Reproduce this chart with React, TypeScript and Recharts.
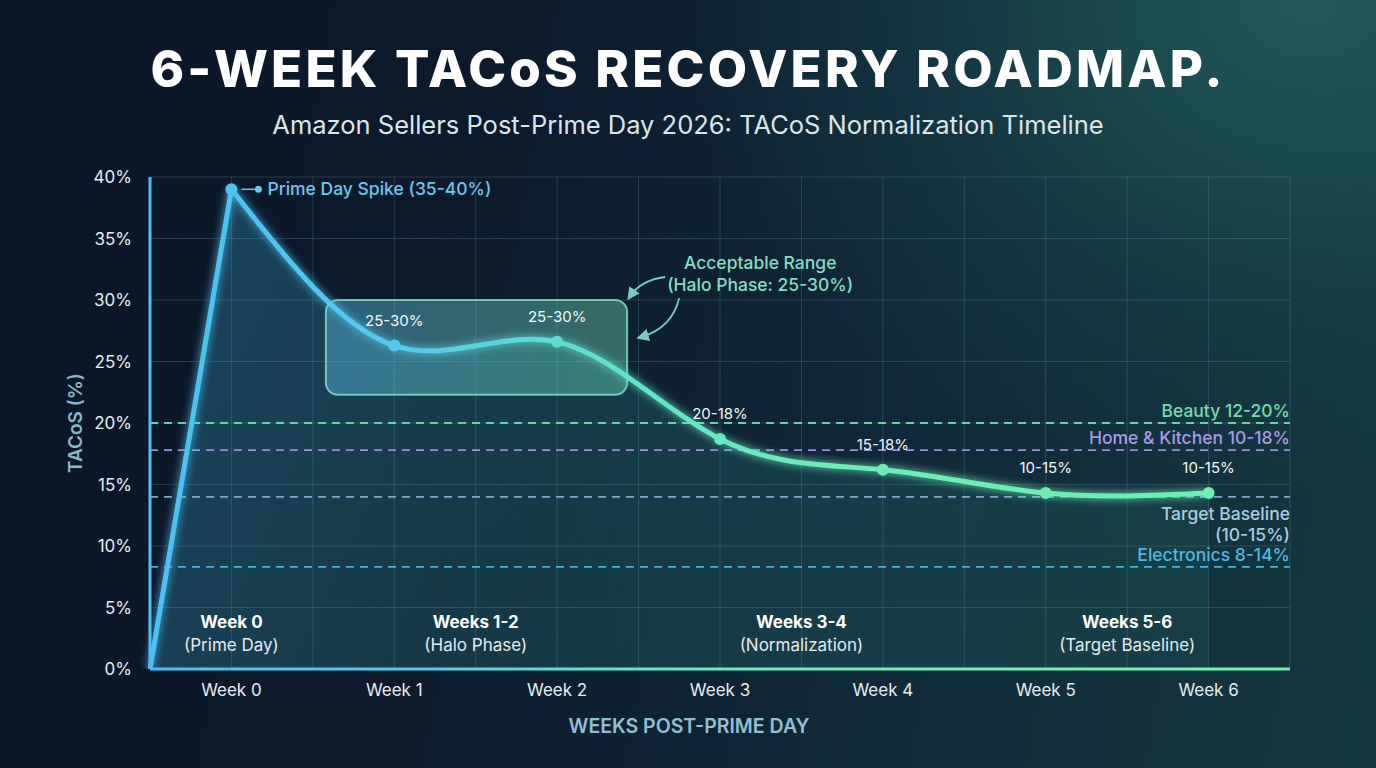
import React from 'react';
import {
  ComposedChart, Line, Area, XAxis, YAxis, CartesianGrid, ReferenceLine, ReferenceArea, ReferenceDot, LabelList,
} from 'recharts';

// values
const weeks = [0, 1, 2, 3, 4, 5, 6];
const tacos = [39, 26.3, 26.6, 18.7, 16.2, 14.3, 14.3];
const pointLabels = ['Prime Day Spike (35-40%)', '25-30%', '25-30%', '20-18%', '15-18%', '10-15%', '10-15%'];
const startWeek = -0.5;
const startTacos = 0;

const yTicks = [0, 5, 10, 15, 20, 25, 30, 35, 40];
const gridWeeks = [-0.5, 0, 0.5, 1, 1.5, 2, 2.5, 3, 3.5, 4, 4.5, 5, 5.5, 6, 6.5];

const benchmarkNames = ['Beauty 12-20%', 'Home & Kitchen 10-18%', 'Target Baseline', 'Electronics 8-14%'];
const benchmarkValues = [20, 17.8, 14, 8.3];

const phaseTitles = ['Week 0', 'Weeks 1-2', 'Weeks 3-4', 'Weeks 5-6'];
const phaseSubtitles = ['(Prime Day)', '(Halo Phase)', '(Normalization)', '(Target Baseline)'];
const phaseCenters = [0, 1.5, 3.5, 5.5];

const haloWeeks = [0.58, 2.43];
const haloRange = [22.3, 30];

const data = [
  { week: startWeek, rise: startTacos },
  ...weeks.map((w, i) => ({ week: w, tacos: tacos[i], rise: i === 0 ? tacos[i] : undefined, label: pointLabels[i] })),
];

const W = 1376;
const H = 768;
const FONT = 'Inter, "Noto Sans", sans-serif';
const benchColors = ['#5fd6a4', '#9a8fe0', '#7ea6cf', '#45b3e0'];
const benchText = ['#74dcae', '#a89ae6', '#a9cde0', '#4fb8e6'];

const PointLabel = (props: any) => {
  const { x, y, value } = props;
  if (!value || value === pointLabels[0] || y == null) return null;
  return (
    <text x={x} y={y - 20} textAnchor="middle" fill="#f2f6f8" fontSize={15} fontFamily={FONT}>
      {value}
    </text>
  );
};

const SpikeLabel = (props: any) => {
  const { x, y, value } = props;
  if (value !== pointLabels[0] || y == null) return null;
  return (
    <g>
      <line x1={x + 10} y1={y} x2={x + 26} y2={y} stroke="#6cc6ee" strokeWidth={1.5} />
      <circle cx={x + 27} cy={y} r={3.5} fill="#6cc6ee" />
      <text x={x + 36} y={y + 6} fill="#6cc6ee" fontSize={17.5} fontWeight={500} fontFamily={FONT}>
        {value}
      </text>
    </g>
  );
};

const BenchLabel = ({ viewBox, idx }: any) => {
  const { x, y, width } = viewBox;
  const right = x + width;
  if (idx === 2) {
    return (
      <text x={right} y={y + 23} textAnchor="end" fill={benchText[idx]} fontSize={17.5} fontWeight={500} fontFamily={FONT}>
        <tspan x={right}>{benchmarkNames[idx]}</tspan>
        <tspan x={right} dy={21}>(10-15%)</tspan>
      </text>
    );
  }
  return (
    <text x={right} y={y - 6} textAnchor="end" fill={benchText[idx]} fontSize={17.5} fontWeight={500} fontFamily={FONT}>
      {benchmarkNames[idx]}
    </text>
  );
};

const HaloNote = (props: any) => {
  const { x, y, width } = props.viewBox;
  const r = x + width;
  return (
    <g>
      <text x={r + 133} y={y - 31} textAnchor="middle" fill="#86dcc2" fontSize={17.5} fontWeight={500} fontFamily={FONT}>
        Acceptable Range
      </text>
      <text x={r + 133} y={y - 9} textAnchor="middle" fill="#86dcc2" fontSize={17.5} fontWeight={500} fontFamily={FONT}>
        (Halo Phase: 25-30%)
      </text>
      <path d={`M ${r + 38} ${y - 23} Q ${r + 14} ${y - 20} ${r + 3} ${y - 4}`} fill="none" stroke="#7cc9be" strokeWidth={1.8} markerEnd="url(#arrowHead)" />
      <path d={`M ${r + 52} ${y - 2} Q ${r + 45} ${y + 28} ${r + 14} ${y + 37}`} fill="none" stroke="#7cc9be" strokeWidth={1.8} markerEnd="url(#arrowHead)" />
    </g>
  );
};

const Dot = (props: any) => {
  const { cx, cy, payload } = props;
  if (payload.tacos === undefined) return null;
  return <circle cx={cx} cy={cy} r={6} fill="url(#lineGrad)" stroke="none" />;
};

export default function App() {
  return (
    <div
      style={{
        position: 'fixed', left: 0, top: 0, width: W, height: H, overflow: 'hidden', fontFamily: FONT,
        background:
          'radial-gradient(ellipse 55% 75% at 95% 0%, rgba(34,96,92,0.85), rgba(24,72,78,0.35) 55%, transparent 85%), linear-gradient(100deg, #0b1628 0%, #0c1a2c 35%, #10293a 65%, #14383f 100%)',
      }}
    >
      <div style={{ position: 'absolute', top: 38, width: W, textAlign: 'center', color: '#fff', fontSize: 51, fontWeight: 800, letterSpacing: 3.2 }}>
        6-WEEK TACoS RECOVERY ROADMAP.
      </div>
      <div style={{ position: 'absolute', top: 109, width: W, textAlign: 'center', color: '#dbe5ea', fontSize: 25.5, fontWeight: 400 }}>
        Amazon Sellers Post-Prime Day 2026: TACoS Normalization Timeline
      </div>
      <div
        style={{
          position: 'absolute', left: 75, top: 423, transform: 'translate(-50%, -50%) rotate(-90deg)',
          color: '#8db6c6', fontSize: 19, fontWeight: 600, whiteSpace: 'nowrap',
        }}
      >
        TACoS (%)
      </div>
      <div style={{ position: 'absolute', top: 714, left: 150, width: 1078, textAlign: 'center', color: '#93bfd2', fontSize: 19.5, fontWeight: 600 }}>
        WEEKS POST-PRIME DAY
      </div>

      <div style={{ position: 'absolute', left: 0, top: 0 }}>
        <ComposedChart width={W} height={H} data={data} margin={{ top: 177, right: 86, bottom: 69, left: 90 }}>
          <defs>
            <linearGradient id="lineGrad" gradientUnits="userSpaceOnUse" x1={150} y1={0} x2={1290} y2={0}>
              <stop offset="0%" stopColor="#4cc0f2" />
              <stop offset="22%" stopColor="#55c9ec" />
              <stop offset="40%" stopColor="#62e0cc" />
              <stop offset="60%" stopColor="#6eecb8" />
              <stop offset="100%" stopColor="#6ef0b4" />
            </linearGradient>
            <linearGradient id="areaGrad" gradientUnits="userSpaceOnUse" x1={150} y1={180} x2={1290} y2={669}>
              <stop offset="0%" stopColor="#3fb2e0" stopOpacity={0.5} />
              <stop offset="40%" stopColor="#3fb8b8" stopOpacity={0.3} />
              <stop offset="100%" stopColor="#3fbf9a" stopOpacity={0.12} />
            </linearGradient>
            <linearGradient id="haloGrad" x1="0" y1="0" x2="1" y2="0">
              <stop offset="0%" stopColor="#5bb8e0" stopOpacity={0.45} />
              <stop offset="100%" stopColor="#6ee0b8" stopOpacity={0.4} />
            </linearGradient>
            <filter id="glow" x="-20%" y="-20%" width="140%" height="140%">
              <feGaussianBlur stdDeviation="4" result="b" />
              <feMerge>
                <feMergeNode in="b" />
                <feMergeNode in="SourceGraphic" />
              </feMerge>
            </filter>
            <marker id="arrowHead" viewBox="0 0 10 10" refX="6" refY="5" markerWidth="7" markerHeight="7" orient="auto-start-reverse">
              <path d="M 0 0 L 10 5 L 0 10 z" fill="#7cc9be" />
            </marker>
          </defs>

          <XAxis xAxisId="grid" dataKey="week" type="number" domain={[-0.5, 6.5]} ticks={gridWeeks} hide />
          <CartesianGrid xAxisId="grid" stroke="#5d8ea0" strokeOpacity={0.3} strokeWidth={1} />
          <XAxis
            dataKey="week"
            type="number"
            domain={[-0.5, 6.5]}
            ticks={weeks}
            tickFormatter={(v) => `Week ${v}`}
            axisLine={{ stroke: 'url(#lineGrad)', strokeWidth: 3 }}
            tickLine={false}
            tick={{ fill: '#e6edf1', fontSize: 17, fontFamily: FONT }}
            tickMargin={9}
            height={30}
          />
          <YAxis
            domain={[0, 40]}
            ticks={yTicks}
            tickFormatter={(v) => `${v}%`}
            axisLine={{ stroke: '#4cc0f2', strokeWidth: 3 }}
            tickLine={false}
            tick={{ fill: '#e6edf1', fontSize: 17, fontFamily: FONT }}
            tickMargin={12}
            width={60}
            allowDataOverflow
          />

          {benchmarkValues.map((v, i) => (
            <ReferenceLine
              key={benchmarkNames[i]}
              y={v}
              stroke={benchColors[i]}
              strokeWidth={1.8}
              strokeDasharray="8 6"
              label={(p: any) => <BenchLabel {...p} idx={i} />}
            />
          ))}

          <Area dataKey="rise" type="linear" stroke="none" fill="url(#areaGrad)" isAnimationActive={false} />
          <Area dataKey="tacos" type="natural" stroke="none" fill="url(#areaGrad)" isAnimationActive={false} />

          <ReferenceArea
            x1={haloWeeks[0]}
            x2={haloWeeks[1]}
            y1={haloRange[0]}
            y2={haloRange[1]}
            fill="url(#haloGrad)"
            fillOpacity={1}
            stroke="#86e2c8"
            strokeOpacity={0.8}
            strokeWidth={2}
            radius={12}
            label={(p: any) => <HaloNote {...p} />}
          />

          <Line dataKey="rise" type="linear" stroke="url(#lineGrad)" strokeWidth={5} dot={false} filter="url(#glow)" isAnimationActive={false} />
          <Line dataKey="tacos" type="natural" stroke="url(#lineGrad)" strokeWidth={5} dot={<Dot />} activeDot={false} filter="url(#glow)" isAnimationActive={false}>
            <LabelList dataKey="label" content={<PointLabel />} />
            <LabelList dataKey="label" content={<SpikeLabel />} />
          </Line>

          {phaseCenters.map((c, i) => (
            <ReferenceDot
              key={phaseTitles[i]}
              x={c}
              y={3.8}
              r={0}
              shape={(p: any) => (
                <g>
                  <text x={p.cx} y={p.cy + 6} textAnchor="middle" fill="#ffffff" fontSize={17} fontWeight={700} fontFamily={FONT}>
                    {phaseTitles[i]}
                  </text>
                  <text x={p.cx} y={p.cy + 29} textAnchor="middle" fill="#e3ebef" fontSize={17} fontFamily={FONT}>
                    {phaseSubtitles[i]}
                  </text>
                </g>
              )}
            />
          ))}
        </ComposedChart>
      </div>
    </div>
  );
}
